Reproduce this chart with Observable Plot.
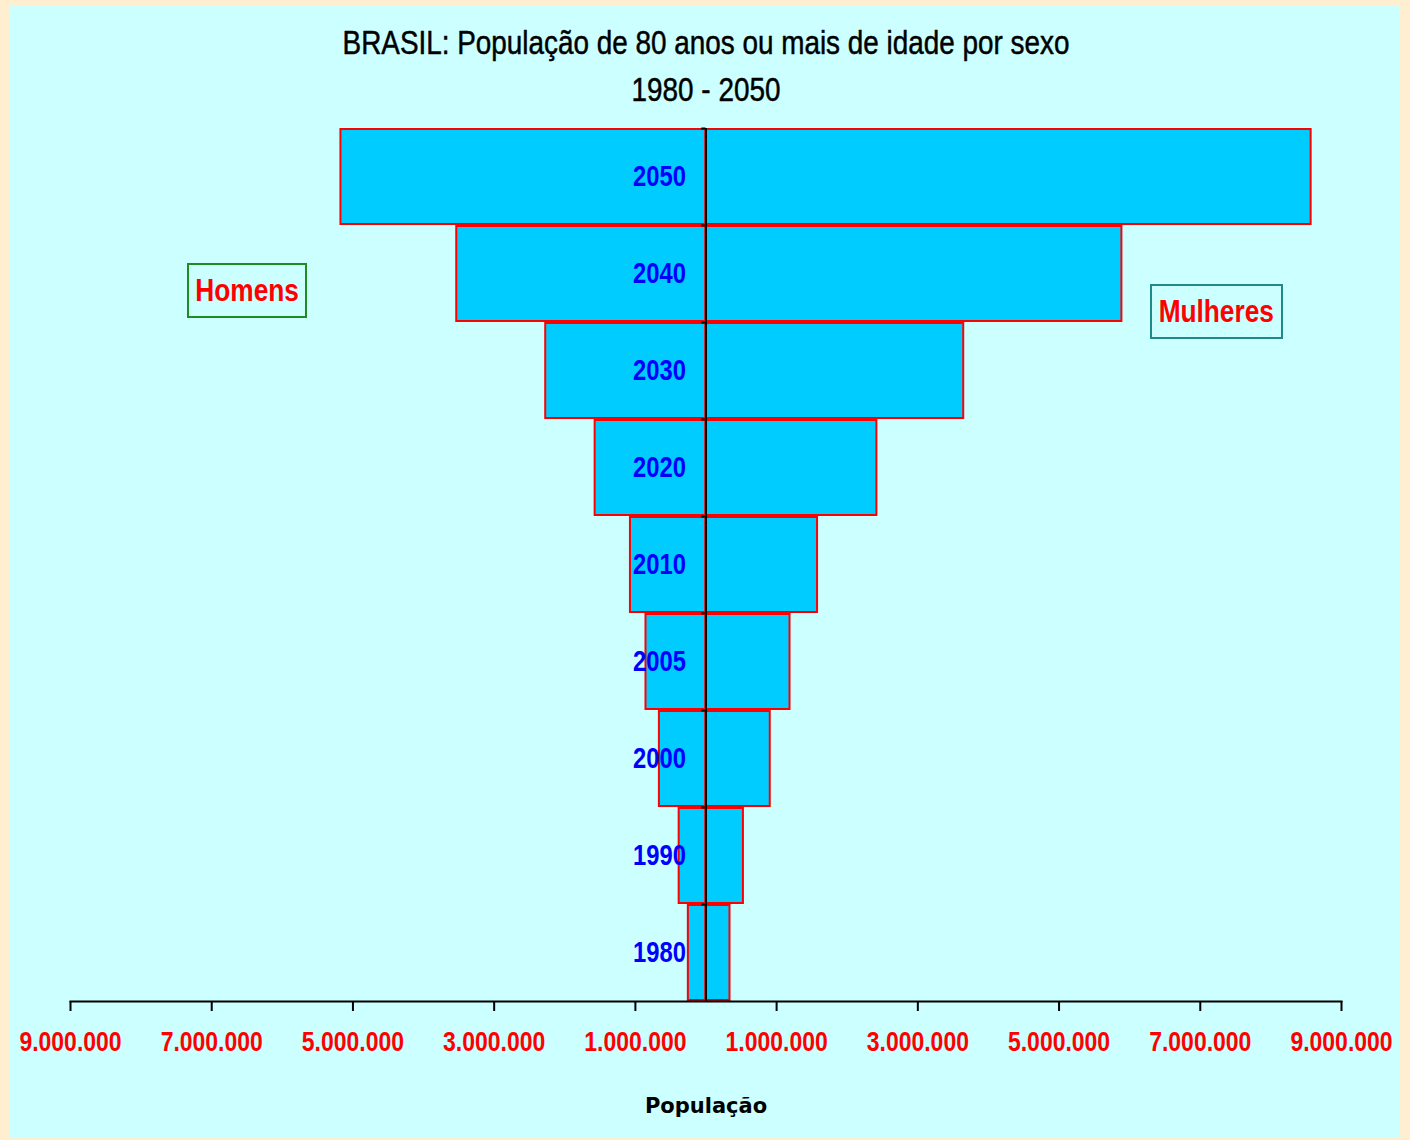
<!DOCTYPE html>
<html>
<head>
<meta charset="utf-8">
<script src="https://cdn.jsdelivr.net/npm/d3@7"></script>
<script src="https://cdn.jsdelivr.net/npm/@observablehq/plot@0.6"></script>
<style>
  html, body { margin: 0; padding: 0; background: #FFEFD0; }
  #wrap { position: relative; width: 1410px; height: 1140px; overflow: hidden; background: #FFEFD0; }
  #panel { position: absolute; left: 10px; top: 5px; width: 1390px; height: 1133px; background: #CCFFFF; }
  #chart { position: absolute; left: 0; top: 0; }
  .leg { position: absolute; box-sizing: border-box; display: flex; align-items: center; justify-content: center;
         font-family: "Liberation Sans", Arial, sans-serif;
         font-weight: bold; font-size: 32px; color: #FF0000; background: #CCFFFF; }
  .leg span { display: inline-block; transform: scaleX(0.82); white-space: nowrap; }
</style>
</head>
<body>
<div id="wrap">
  <div id="panel"></div>
  <div id="chart"></div>
  <div class="leg" id="homens" style="left:187px;top:263px;width:120px;height:55px;border:2px solid #1E8C1E;"><span>Homens</span></div>
  <div class="leg" id="mulheres" style="left:1150px;top:284px;width:133px;height:55px;border:2px solid #1E8A8A;"><span>Mulheres</span></div>
</div>
<script>
const titleLines = ["BRASIL: População de 80 anos ou mais de idade por sexo", "1980 - 2050"];
const years = ["2050", "2040", "2030", "2020", "2010", "2005", "2000", "1990", "1980"];
const homens = [5170000, 3530000, 2270000, 1570000, 1070000, 850000, 660000, 380000, 250000];
const mulheres = [8570000, 5890000, 3650000, 2420000, 1580000, 1190000, 910000, 530000, 340000];
const xTicks = [-9000000, -7000000, -5000000, -3000000, -1000000, 1000000, 3000000, 5000000, 7000000, 9000000];
const xLabel = "População";

const rows = years.map((y, i) => ({year: y, homens: homens[i], mulheres: mulheres[i]}));
const fmt = d => d3.format(",")(Math.abs(d)).replace(/,/g, ".");
const sans = "'Liberation Sans', Arial, sans-serif";

const chart = Plot.plot({
  width: 1410,
  height: 1140,
  marginLeft: 70,
  marginRight: 69,
  marginTop: 128,
  marginBottom: 139,
  style: {background: "transparent", fontFamily: sans, overflow: "visible"},
  x: {domain: [-9000000, 9000000]},
  y: {domain: years, padding: 0, axis: null},
  marks: [
    Plot.barX(rows, {y: "year", x1: d => -d.homens, x2: 0, insetTop: 1, insetBottom: 1,
      fill: "#00CCFF", stroke: "#FF0000", strokeWidth: 2}),
    Plot.barX(rows, {y: "year", x1: 0, x2: d => d.mulheres, insetTop: 1, insetBottom: 1,
      fill: "#00CCFF", stroke: "#FF0000", strokeWidth: 2}),
    Plot.ruleX([0], {stroke: "black", strokeWidth: 2}),
    Plot.ruleY(years, {y: d => d, x1: -60000, x2: 0, dy: -48.5, stroke: "black", strokeWidth: 2}),
    Plot.text(rows, {x: () => 0, y: "year", text: "year", dx: -20, textAnchor: "end", fill: "#0000FF",
      fontWeight: "bold", fontSize: 29, className: "narrow"}),
    Plot.frame({anchor: "bottom", stroke: "black", strokeWidth: 2}),
    Plot.axisX({ticks: xTicks, tickFormat: fmt, tickSize: 10, tickPadding: 20, stroke: "black", strokeWidth: 2,
      fill: "#FF0000", fontSize: 28, fontWeight: "bold", label: null, className: "narrow"}),
    Plot.text([titleLines[0]], {frameAnchor: "top", lineAnchor: "middle", dy: -85, text: d => d, fontSize: 34,
      fill: "black", stroke: "black", strokeWidth: 0.5, className: "narrow"}),
    Plot.text([titleLines[1]], {frameAnchor: "top", lineAnchor: "middle", dy: -38, text: d => d, fontSize: 34,
      fill: "black", stroke: "black", strokeWidth: 0.5, className: "narrow"}),
    Plot.text([xLabel], {frameAnchor: "bottom", lineAnchor: "middle", dy: 105, text: d => d, fontSize: 21, fontWeight: "bold", fill: "black",
      fontFamily: "'DejaVu Sans', sans-serif"})
  ]
});
document.getElementById("chart").appendChild(chart);

// condense the Arial-metric text to an Arial Narrow look
chart.querySelectorAll("g.narrow text, .narrow text, text.narrow").forEach(t => {
  const len = t.getComputedTextLength();
  if (len > 0) {
    t.setAttribute("textLength", (len * 0.82).toFixed(1));
    t.setAttribute("lengthAdjust", "spacingAndGlyphs");
  }
});
</script>
</body>
</html>
